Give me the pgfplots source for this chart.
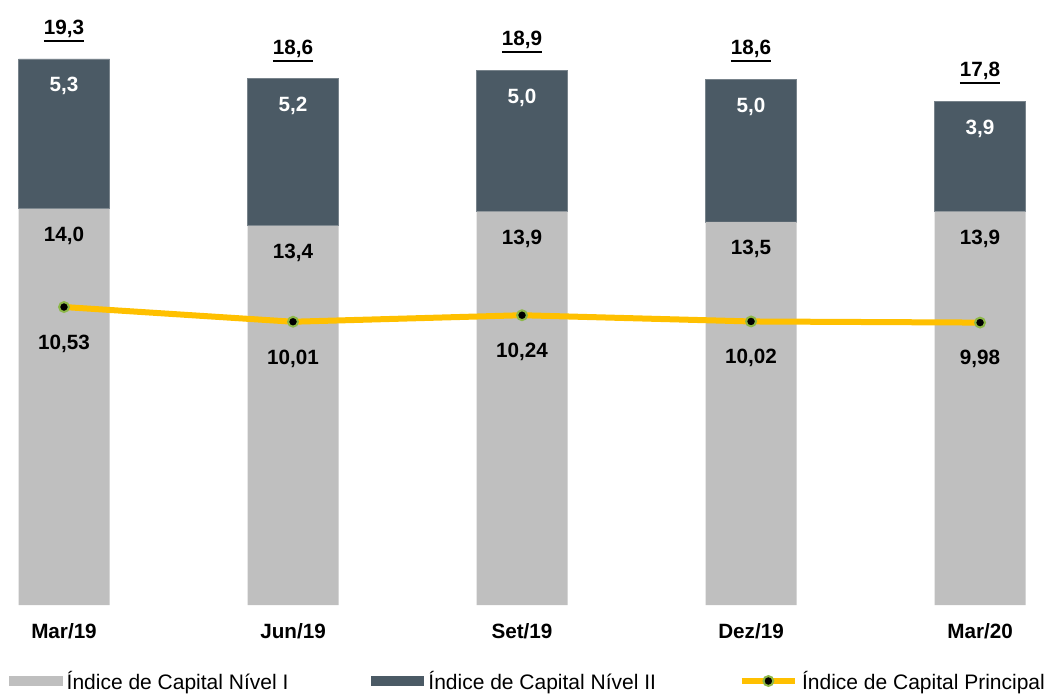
\documentclass[border=0pt]{standalone}
\usepackage{fontspec}
\setmainfont{Liberation Sans}
\usepackage{pgfplots}
\usepackage{pgfplotstable}
\pgfplotsset{compat=1.18}

\definecolor{nivelI}{HTML}{BFBFBF}
\definecolor{nivelII}{HTML}{4B5A65}
\definecolor{principal}{HTML}{FFC000}
\definecolor{markedge}{HTML}{8DB848}

\newcommand\labelfont{\fontsize{15.5}{18}\selectfont\bfseries}
\newcommand\ul[1]{\vtop{\hbox{#1}\kern1.8pt\hrule height 1.5pt}}

% capital ratios per quarter (%): tier I, tier II, stated total, top of stack
\pgfplotstableread{
x n1 n2 tot top
0 14.0 5.3 19.3 19.3
1 13.4 5.2 18.6 18.6
2 13.9 5.0 18.9 18.9
3 13.54 5.04 18.6 18.58
4 13.9 3.9 17.8 17.8
}\capital

\pgfplotstableread{
x y
0 10.53
1 10.01
2 10.24
3 10.02
4 9.98
}\principaltab

\tikzset{
  fmt/.style={/pgf/number format/fixed, /pgf/number format/fixed zerofill,
    /pgf/number format/precision=#1, /pgf/number format/use comma,
    /pgf/number format/assume math mode=true},
}
\pgfplotsset{
  capframe/.style={scale only axis, width=784.5pt, height=453.75pt,
    xmin=-0.2795, xmax=4.288, ymin=0, ymax=21.38,
    at={(0pt,66pt)}, anchor=south west, clip=false},
  capswatch/.style={legend image code/.code={\fill[##1] (0pt,-3.4pt) rectangle (40pt,3.4pt);}},
  capline/.style={legend image code/.code={\draw[mark repeat=2, mark phase=2, ##1] plot coordinates {(0pt,0pt) (20pt,0pt) (40pt,0pt)};}},
  caplabel/.style={draw=none, mark=none, nodes near coords, point meta=explicit,
    nodes near coords style={font=\labelfont, anchor=center, #1}},
}

\begin{document}
\begin{tikzpicture}
\path[use as bounding box] (0,0) rectangle (784.5pt,519.75pt);

% stacked bars
\begin{axis}[capframe, ybar stacked, bar width=68.25pt,
  axis x line=bottom, hide y axis,
  x axis line style={draw=none}, xtick style={draw=none},
  xtick={0,...,4}, xticklabels={Mar/19,Jun/19,Set/19,Dez/19,Mar/20},
  xticklabel style={font=\labelfont, yshift=-8pt}]
\addplot[fill=nivelI, draw=none] table[x=x, y=n1] {\capital};
\addplot[fill=nivelII, draw=nivelII!75!white, line width=0.5pt] table[x=x, y=n2] {\capital};
\end{axis}

% line, value labels and legend
\begin{axis}[capframe, hide axis,
  legend columns=3, legend cell align=left,
  legend style={draw=none, fill=none, at={(axis description cs:0,0)}, anchor=west,
    xshift=7pt, yshift=-57pt, font=\fontsize{15.75}{18}\selectfont,
    inner sep=0pt, outer sep=0pt, nodes={inner sep=0pt},
    /tikz/every odd column/.append style={column sep=3pt},
    /tikz/every even column/.append style={column sep=62pt}}]
\addlegendimage{capswatch, fill=nivelI, draw=none}
\addlegendentry{Índice de Capital Nível I}
\addlegendimage{capswatch, fill=nivelII, draw=none}
\addlegendentry{Índice de Capital Nível II}
\addplot[principal, line width=4.5pt, capline,
  mark=*, mark size=3.7pt, mark options={fill=black, draw=markedge, line width=1.5pt},
  nodes near coords, point meta=y,
  nodes near coords style={font=\labelfont, text=black, anchor=center, yshift=-27.5pt, fmt=2}]
  table[x=x, y=y] {\principaltab};
\addlegendentry{Índice de Capital Principal}

\addplot[caplabel={text=black, yshift=-20.5pt, fmt=1}] table[x=x, y=n1, meta=n1] {\capital};
\addplot[caplabel={text=white, yshift=-20.5pt, fmt=1}] table[x=x, y=top, meta=n2] {\capital};
\addplot[caplabel={text=black, yshift=21pt, fmt=1},
  nodes near coords={\ul{\pgfmathprintnumber{\pgfplotspointmeta}}}]
  table[x=x, y=top, meta=tot] {\capital};
\end{axis}
\end{tikzpicture}
\end{document}
